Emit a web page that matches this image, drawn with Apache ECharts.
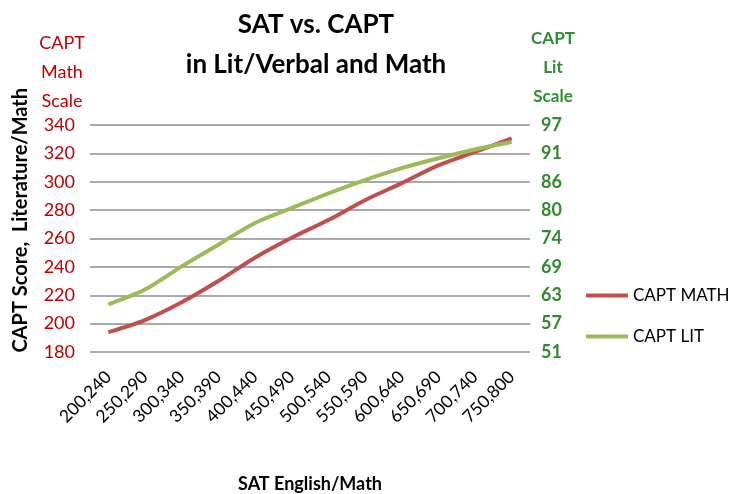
<!DOCTYPE html>
<html>
<head>
<meta charset="utf-8">
<script src="https://cdn.jsdelivr.net/npm/echarts@6/dist/echarts.min.js"></script>
<style>
  html, body { margin: 0; padding: 0; background: #fff; }
  #chart { width: 743px; height: 494px; }
</style>
</head>
<body>
<div id="chart"></div>
<script>
  // SAT score bands
  var categories = ['200,240', '250,290', '300,340', '350,390', '400,440', '450,490',
                    '500,540', '550,590', '600,640', '650,690', '700,740', '750,800'];
  // CAPT math scale (left axis)
  var mathScores = [194, 202.5, 215, 230, 246.5, 260.5, 273, 287, 299, 311.5, 321, 330.5];
  // CAPT lit scale (right axis)
  var litScores = [61.4, 64.4, 69.1, 73.5, 77.9, 80.9, 83.9, 86.6, 89, 91, 92.8, 94.3];
  // right axis tick labels, as printed
  var litTicks = ['51', '57', '63', '69', '74', '80', '86', '91', '97'];

  var font = 'Lato, "Open Sans", sans-serif';
  var red = '#C0504D', green = '#9BBB59';
  var litMin = 51.75, litStep = 5.75;

  var myChart = echarts.init(document.getElementById('chart'));
  var option = {
    animation: false,
    textStyle: { fontFamily: font },
    title: {
      text: 'SAT vs. CAPT\nin Lit/Verbal and Math',
      left: 311,
      top: 0,
      textAlign: 'center',
      textStyle: { fontSize: 26, fontWeight: 'bold', color: '#000', lineHeight: 40, fontFamily: font }
    },
    legend: {
      orient: 'vertical',
      left: 581,
      top: 282,
      itemWidth: 42,
      itemHeight: 4,
      itemGap: 24,
      icon: 'rect',
      textStyle: { fontSize: 17, color: '#000', fontFamily: font },
      data: ['CAPT MATH', 'CAPT LIT']
    },
    grid: { left: 90, right: 213, top: 125, bottom: 141 },
    xAxis: {
      type: 'category',
      data: categories,
      axisLine: { show: false },
      axisTick: { show: false },
      axisLabel: { rotate: 45, fontSize: 17.5, color: '#000', margin: 22, fontFamily: font },
      name: 'SAT English/Math',
      nameLocation: 'middle',
      nameGap: 123,
      nameTextStyle: { fontSize: 18, fontWeight: 'bold', color: '#000', fontFamily: font }
    },
    yAxis: [
      {
        type: 'value',
        min: 180,
        max: 340,
        interval: 20,
        axisLine: { show: false },
        axisTick: { show: false },
        splitLine: { lineStyle: { color: '#8c8c8c', width: 1.5 } },
        axisLabel: { fontSize: 18, color: '#C00000', margin: 15, fontFamily: font },
        name: 'CAPT\nMath\nScale',
        nameLocation: 'end',
        nameGap: 9,
        nameTextStyle: { fontSize: 18, color: '#C00000', lineHeight: 29, align: 'center', padding: [0, 0, 0, -56], fontFamily: font }
      },
      {
        type: 'value',
        min: litMin,
        max: litMin + 8 * litStep,
        interval: litStep,
        axisLine: { show: false },
        axisTick: { show: false },
        splitLine: { show: false },
        axisLabel: {
          fontSize: 18, fontWeight: 'bold', color: '#2E8B2E', margin: 11, fontFamily: font,
          formatter: function (v) { return litTicks[Math.round((v - litMin) / litStep)]; }
        },
        name: 'CAPT\nLit\nScale',
        nameLocation: 'end',
        nameGap: 14,
        nameTextStyle: { fontSize: 17, fontWeight: 'bold', color: '#2E8B2E', lineHeight: 29, align: 'center', padding: [0, 0, 0, 46], fontFamily: font }
      }
    ],
    graphic: [{
      type: 'text',
      left: 11,
      top: 88,
      rotation: Math.PI / 2,
      style: {
        text: 'CAPT Score,  Literature/Math',
        fontSize: 20,
        fontWeight: 'bold',
        fill: '#000',
        fontFamily: font
      }
    }],
    series: [
      {
        name: 'CAPT MATH',
        type: 'line',
        yAxisIndex: 0,
        data: mathScores,
        smooth: 0.3,
        symbol: 'none',
        lineStyle: { width: 4, color: red },
        itemStyle: { color: red }
      },
      {
        name: 'CAPT LIT',
        type: 'line',
        yAxisIndex: 1,
        data: litScores,
        smooth: 0.3,
        symbol: 'none',
        lineStyle: { width: 4, color: green },
        itemStyle: { color: green }
      }
    ]
  };
  myChart.setOption(option);
</script>
</body>
</html>
